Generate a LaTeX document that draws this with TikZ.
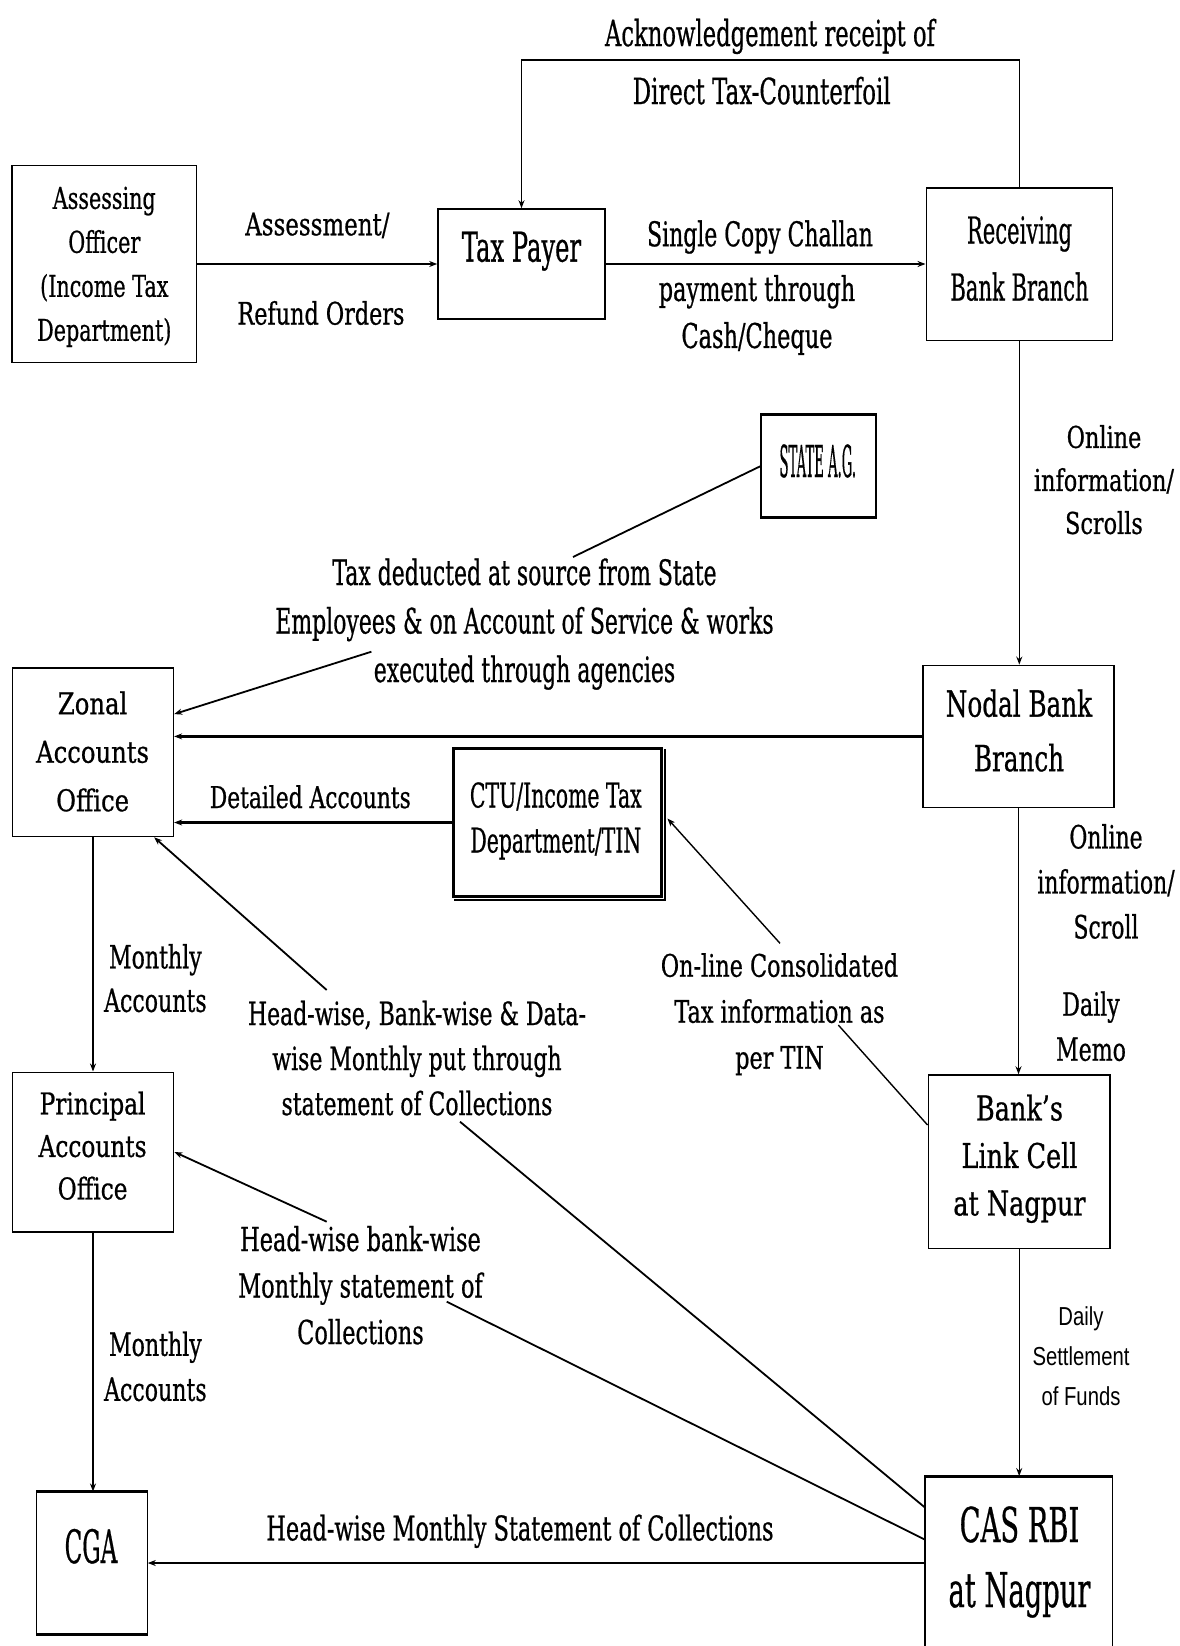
\documentclass[tikz,border=0pt]{standalone}
\usepackage{fontspec}
\setmainfont{DejaVu Serif}[FakeBold=0.8,AutoFakeBold=0.8]
\newfontfamily\sansfont{Liberation Sans}
\usetikzlibrary{arrows.meta,calc}
% horizontally condensed, centred block of lines
\newcommand\sq[2]{\scalebox{#1}[1]{\begin{tabular}{@{}c@{}}#2\end{tabular}}}

\begin{document}
\begin{tikzpicture}[x=1pt,y=-1pt,
  box/.style={draw,line width=1.6pt,inner sep=0pt},
  txt/.style={inner sep=0pt},
  fz/.style 2 args={font=\fontsize{#1}{#2}\selectfont},
  arr/.style={-{Stealth[length=8pt,width=6pt]}},
  hline/.style={arr,line width=2.2pt},
  vline/.style={arr,line width=1.4pt},
  dline/.style={line width=1.8pt},
]
\useasboundingbox (0,0) rectangle (1180,1646);
\fill[white] (0,0) rectangle (1180,1646);
\clip (0,0) rectangle (1180,1646);

% ---- boxes ----
\node[box,minimum width=184.5pt,minimum height=197pt] (ao) at (104.3,264) {};
\node[box,minimum width=167pt,minimum height=110pt] (tp) at (521.5,264) {};
\node[box,minimum width=186pt,minimum height=152.6pt] (rb) at (1019.3,264) {};
\node[box,line width=1.2pt,minimum width=115pt,minimum height=102.3pt] (sag) at (818.5,466.2) {};
\draw[line width=3pt] (sag.north west) -- (sag.north east) (sag.south west) -- (sag.south east);
\node[box,minimum width=160.7pt,minimum height=168.8pt] (zao) at (93,752.1) {};
\node[box,minimum width=191pt,minimum height=142pt] (nbb) at (1018.5,736.4) {};
\node[box,line width=3pt,minimum width=208.5pt,minimum height=148pt] (ctu) at (557.7,822.5) {};
\draw[line width=2pt] ($(ctu.north east)+(2,2)$) -- ($(ctu.south east)+(2,2)$) -- ($(ctu.south west)+(2,2)$);
\node[box,minimum width=161.3pt,minimum height=159.4pt] (pao) at (93,1152) {};
\node[box,minimum width=181.7pt,minimum height=173.3pt] (blc) at (1019.2,1161.7) {};
\node[box,line width=1.1pt,minimum width=110.5pt,minimum height=142pt] (cga) at (92,1563) {};
\draw[line width=3pt] (cga.north west) -- (cga.north east) (cga.south west) -- (cga.south east);
\node[box,line width=1.3pt,minimum width=187.5pt,minimum height=203pt] (cas) at (1018.8,1578.2) {};
\draw[line width=3pt] (cas.north west) -- (cas.north east);

% ---- straight connectors ----
\coordinate (ackturn) at (0,60);
\draw[vline] (rb.north) -- (rb.north |- ackturn) -| (tp.north);
\draw[hline] (ao.east) -- (tp.west);
\draw[hline] (tp.east) -- (rb.west);
\draw[vline] (rb.south) -- (rb.south |- nbb.north);
\draw[hline] (nbb.west) -- (nbb.west -| zao.east);
\draw[hline] (ctu.west) -- (ctu.west -| zao.east);
\draw[vline] (zao.south) -- (pao.north);
\draw[vline] (pao.south) -- (pao.south |- cga.north);
\draw[vline] (nbb.south) -- (nbb.south |- blc.north);
\draw[vline] (blc.south) -- (blc.south |- cas.north);
\draw[hline] (cga.east -| cas.west) -- (cga.east);

% ---- slanted connectors, broken by their labels ----
\coordinate (tdsin) at (573,557);
\coordinate (tdsout) at (371.4,651.7);
\draw[dline] (sag.west) -- (tdsin);
\draw[dline,arr] (tdsout) -- ($(zao.east)+(0,-38)$);

\coordinate (hwAin) at (460,1121.7);
\coordinate (hwAout) at (326.7,990);
\draw[dline] ($(cas.north west)+(0,31)$) -- (hwAin);
\draw[dline,arr] (hwAout) -- ($(zao.south east)+(-20,0)$);

\coordinate (hwBin) at (446.7,1301.7);
\coordinate (hwBout) at (326.7,1221.7);
\draw[dline] ($(cas.north west)+(0,63.3)$) -- (hwBin);
\draw[dline,arr] (hwBout) -- (pao.east);

\coordinate (olin) at (838.3,1025);
\coordinate (olout) at (780,943.3);
\draw[line width=1.4pt] ($(blc.west)+(0,-36.7)$) -- (olin);
\draw[line width=1.4pt,arr] (olout) -- ($(ctu.east)+(4,-4)$);

% ---- box texts ----
\node[txt,fz={30}{44}] (aot) at (104.3,266) {\sq{.69}{Assessing\\Officer\\(Income Tax\\Department)}};
\node[txt,fz={41}{49}] (tpt) at (521.4,251.8) {\sq{.59}{Tax Payer}};
\node[txt,fz={37}{57}] (rbt) at (1019.5,260.6) {\sq{.57}{Receiving\\Bank Branch}};
\node[txt,fz={44}{50}] (sagt) at (817.8,467) {\sq{.30}{STATE A.G.}};
\node[txt,fz={30}{48.5}] (zaot) at (92.6,753) {\sq{.81}{Zonal\\Accounts\\Office}};
\node[txt,fz={36}{54.6}] (nbbt) at (1019,733) {\sq{.685}{Nodal Bank\\Branch}};
\node[txt,fz={34}{45}] (ctut) at (555.8,821) {\sq{.60}{CTU/Income Tax\\Department/TIN}};
\node[txt,fz={30}{42.5}] (paot) at (92.6,1148.4) {\sq{.775}{Principal\\Accounts\\Office}};
\node[txt,fz={34}{47.5}] (blct) at (1019.5,1158.4) {\sq{.75}{Bank’s\\Link Cell\\at Nagpur}};
\node[txt,fz={46}{55}] (cgat) at (91,1552) {\sq{.5}{CGA}};
\node[txt,fz={48}{65}] (cast) at (1019.5,1561.5) {\sq{.57}{CAS RBI\\at Nagpur}};

% ---- connector labels ----
\node[txt,fz={36}{43}] (ack1) at (770,37.5) {\sq{.63}{Acknowledgement receipt of}};
\node[txt,fz={36}{43}] (ack2) at (761.7,95.5) {\sq{.635}{Direct Tax-Counterfoil}};
\node[txt,fz={31}{40}] (asr1) at (317.4,227.3) {\sq{.74}{Assessment/}};
\node[txt,fz={31}{40}] (asr2) at (321,316.6) {\sq{.72}{Refund Orders}};
\node[txt,fz={34}{44}] (scc1) at (760,237.4) {\sq{.645}{Single Copy Challan}};
\node[txt,fz={34}{47}] (scc2) at (757,315) {\sq{.66}{payment through\\Cash/Cheque}};
\node[txt,fz={30}{43}] (oi1) at (1104,482.3) {\sq{.745}{Online\\information/\\Scrolls}};
\node[txt,fz={35}{48.5}] (tds) at (524.5,623.8) {\sq{.627}{Tax deducted at source from State\\Employees \& on Account of Service \& works\\executed through agencies}};
\node[txt,fz={30}{40}] (det) at (310.3,800) {\sq{.726}{Detailed Accounts}};
\node[txt,fz={32}{43.5}] (mon1) at (155.4,981.4) {\sq{.69}{Monthly\\Accounts}};
\node[txt,fz={32}{45}] (mon2) at (155.4,1369.3) {\sq{.69}{Monthly\\Accounts}};
\node[txt,fz={32}{45}] (oi2) at (1106,884.4) {\sq{.685}{Online\\information/\\Scroll}};
\node[txt,fz={32}{45}] (dm) at (1091,1029.2) {\sq{.69}{Daily\\Memo}};
\node[txt,fz={31}{46}] (olc) at (779.5,1013.5) {\sq{.72}{On-line Consolidated\\Tax information as\\per TIN}};
\node[txt,fz={32}{45}] (hw1) at (417,1061) {\sq{.686}{Head-wise, Bank-wise \& Data-\\wise Monthly put through\\statement of Collections}};
\node[txt,fz={33}{46.5}] (hw2) at (360.5,1288.2) {\sq{.68}{Head-wise bank-wise\\Monthly statement of\\Collections}};
\node[txt,fz={34}{44}] (hw3) at (520,1531.6) {\sq{.658}{Head-wise Monthly Statement of Collections}};
\node[txt,font=\sansfont\fontsize{26}{40}\selectfont] (dsf) at (1081,1357.3) {\sq{.78}{Daily\\Settlement\\of Funds}};
\end{tikzpicture}
\end{document}
